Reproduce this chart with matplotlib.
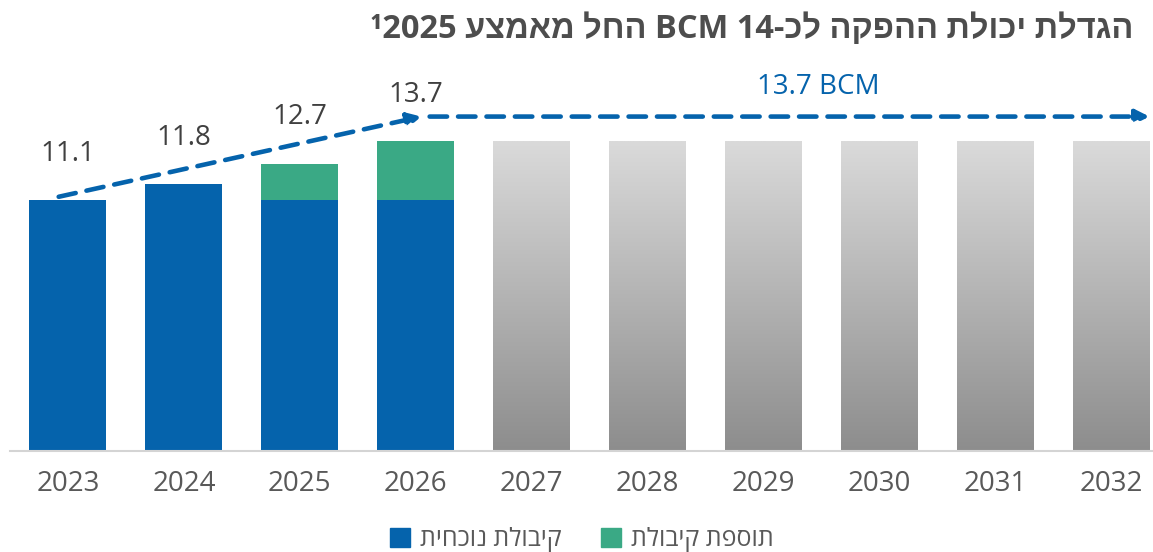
import re
import numpy as np
import matplotlib
matplotlib.use("Agg")
import matplotlib.pyplot as plt
from matplotlib.colors import LinearSegmentedColormap

plt.rcParams['font.family'] = ['Open Sans', 'Liberation Sans', 'DejaVu Sans']

years = ['2023', '2024', '2025', '2026', '2027', '2028', '2029', '2030', '2031', '2032']
current = [11.1, 11.8, 11.1, 11.1]          # קיבולת נוכחית
added = [0, 0, 1.6, 2.6]                    # תוספת קיבולת
totals = [11.1, 11.8, 12.7, 13.7]
future = [13.7] * 6                         # 2027-2032
plateau = 13.7

BLUE = '#0563ac'
GREEN = '#3aa985'


def vis(s):
    # matplotlib has no bidi support: flip to visual order, keep LTR runs
    r = s[::-1]
    return re.sub(r'[0-9A-Za-z.]+', lambda m: m.group()[::-1], r)


fig = plt.figure(figsize=(11.53, 5.52), dpi=100)
ax = fig.add_axes([10 / 1153, 101 / 552, 1 - 10 / 1153, 0.70])

x = np.arange(len(years))
w = 0.664
n = len(current)

ax.bar(x[:n], current, width=w, color=BLUE, zorder=2)
ax.bar(x[:n], added, width=w, bottom=current, color=GREEN, zorder=2)

# gradient bars for the plateau years
cmap = LinearSegmentedColormap.from_list('g', ['#8d8d8d', '#dadada'])
grad = np.linspace(0, 1, 256).reshape(-1, 1)
fut_bars = ax.bar(x[n:], future, width=w, color='none', zorder=2)
for b in fut_bars:
    x0, y0 = b.get_x(), b.get_y()
    im = ax.imshow(grad, cmap=cmap, origin='lower', aspect='auto',
                   extent=[x0, x0 + b.get_width(), y0, y0 + b.get_height()], zorder=2)
    im.set_clip_path(b)

# value labels
for i, v in enumerate(totals):
    ax.text(x[i], v + 1.75, f'{v:.1f}', ha='center', va='baseline',
            fontsize=20, color='#404040')

# dashed arrow: rising part and flat part
arrow = dict(arrowstyle='-|>,head_length=0.8,head_width=0.4',
             color=BLUE, lw=3.3, linestyle=(0, (3.8, 2.4)),
             shrinkA=0, shrinkB=0)
ax.annotate('', xy=(3.05, 14.8), xytext=(-0.08, 11.25), arrowprops=arrow)
ax.annotate('', xy=(9.33, 14.8), xytext=(3.12, 14.8), arrowprops=arrow)
ax.text(6.47, 15.8, f'{plateau} BCM', ha='center', va='baseline',
        fontsize=20, color=BLUE)

ax.set_xlim(-0.5, 9.36)
ax.set_ylim(0, 17.1)
for s in ['top', 'right', 'left']:
    ax.spines[s].set_visible(False)
ax.spines['bottom'].set_color('#d4d4d4')
ax.spines['bottom'].set_linewidth(1.5)
ax.set_yticks([])
ax.set_xticks(x)
ax.set_xticklabels(years, fontsize=20, color='#595959')
ax.tick_params(axis='x', length=0, pad=14)

title = '¹' + vis('הגדלת יכולת ההפקה לכ-14 BCM החל מאמצע 2025')
fig.text(1133 / 1153, 1 - 30 / 552, title, ha='right', va='center',
         fontsize=23.5, fontweight='bold', color='#4d4d4d')

h1 = plt.Rectangle((0, 0), 1, 1, color=BLUE)
h2 = plt.Rectangle((0, 0), 1, 1, color=GREEN)
fig.legend([h1, h2], [vis('קיבולת נוכחית'), vis('תוספת קיבולת')],
           loc='center', bbox_to_anchor=(582 / 1153, 1 - 540 / 552), ncol=2,
           frameon=False, fontsize=18, labelcolor='#595959',
           handlelength=0.8, handleheight=0.8, handletextpad=0.4, columnspacing=1.6)

fig.savefig('out.png', dpi=100)
